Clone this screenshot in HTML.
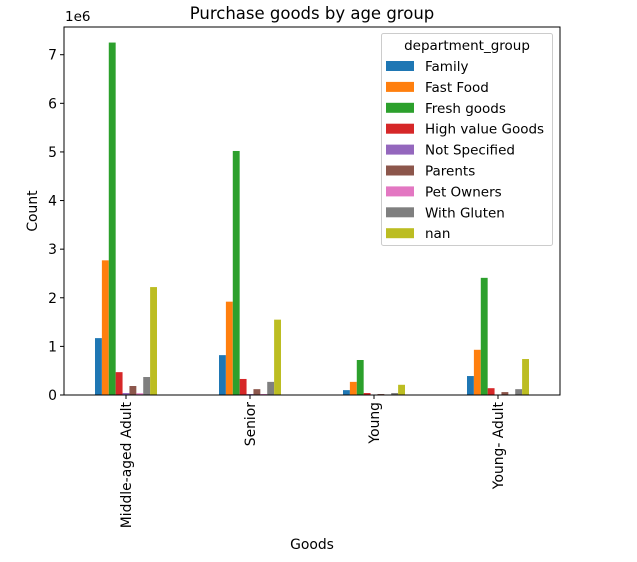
<!DOCTYPE html>
<html><head><meta charset="utf-8"><style>
body{margin:0;background:#fff}
svg{display:block;font-family:"DejaVu Sans","Liberation Sans",sans-serif}
</style></head><body>
<svg id="chart" width="637" height="562">
<text x="312" y="19" font-size="16.5" text-anchor="middle">Purchase goods by age group</text>
<text x="65" y="21" font-size="13.5">1e6</text>
<text x="37" y="211" font-size="13.9" text-anchor="middle" transform="rotate(-90 37 211)">Count</text>
<text x="312" y="549" font-size="13.9" text-anchor="middle">Goods</text>
<g id="bars"></g><g id="axes"></g><g id="legend"></g>
</svg>
<script>
const categories=["Middle-aged Adult","Senior","Young","Young- Adult"];
const seriesNames=["Family","Fast Food","Fresh goods","High value Goods","Not Specified","Parents","Pet Owners","With Gluten","nan"];
const family=[1.17,0.82,0.10,0.39];
const fastFood=[2.77,1.92,0.27,0.93];
const freshGoods=[7.25,5.02,0.72,2.41];
const highValue=[0.47,0.33,0.04,0.14];
const notSpecified=[0.04,0.02,0.005,0.01];
const parents=[0.185,0.12,0.02,0.06];
const petOwners=[0.035,0.02,0.003,0.01];
const withGluten=[0.37,0.27,0.04,0.12];
const nanVals=[2.22,1.55,0.21,0.74];
const yTicks=[0,1,2,3,4,5,6,7];
const colors=["#1f77b4","#ff7f0e","#2ca02c","#d62728","#9467bd","#8c564b","#e377c2","#7f7f7f","#bcbd22"];
const series=[family,fastFood,freshGoods,highValue,notSpecified,parents,petOwners,withGluten,nanVals];
const NS="http://www.w3.org/2000/svg";
const L=64,R=560,T=27,B=395,yMax=7.57;
const y=v=>B-v/yMax*(B-T);
const step=(R-L)/categories.length;
const xc=i=>L+step*(i+0.5);
const bw=step*0.5/series.length;
function mk(t,a,p){const e=document.createElementNS(NS,t);for(const k in a)e.setAttribute(k,a[k]);p.appendChild(e);return e;}
const bars=document.getElementById('bars');
series.forEach((s,j)=>s.forEach((v,i)=>{
 const r=mk('rect',{x:xc(i)-step*0.25+j*bw,y:y(v),width:bw,height:B-y(v),fill:colors[j]},bars);
 
 
}));
const ax=document.getElementById('axes');
const fr=mk('rect',{x:L,y:T,width:R-L,height:B-T,fill:'none',stroke:'#000','stroke-width':1},ax);


yTicks.forEach(t=>{
 mk('line',{x1:L-4,x2:L,y1:y(t),y2:y(t),stroke:'#000'},ax);
 const tx=mk('text',{x:L-7,y:y(t)+5,'font-size':13.9,'text-anchor':'end'},ax);
 tx.textContent=t;
 
 
});
categories.forEach((c,i)=>{
 mk('line',{x1:xc(i),x2:xc(i),y1:B,y2:B+4,stroke:'#000'},ax);
 const tx=mk('text',{x:0,y:0,'font-size':13.9,'text-anchor':'end',transform:`translate(${xc(i)+5},${B+7}) rotate(-90)`},ax);
 tx.textContent=c;
 
 
});
const lg=document.getElementById('legend');


mk('rect',{x:381.5,y:33.5,width:171,height:212,rx:2,fill:'#fff',stroke:'#ccc'},lg);
const lt=mk('text',{x:467,y:50,'font-size':13.5,'text-anchor':'middle'},lg);
lt.textContent='department_group';
seriesNames.forEach((n,j)=>{
 const yy=66+j*20.9;
 const g=mk('g',{},lg);
 
 
 mk('rect',{x:386,y:yy-5,width:28,height:10,fill:colors[j]},g);
 const t=mk('text',{x:425,y:yy+5,'font-size':13.5},g);
 t.textContent=n;
});
</script>
</body></html>
